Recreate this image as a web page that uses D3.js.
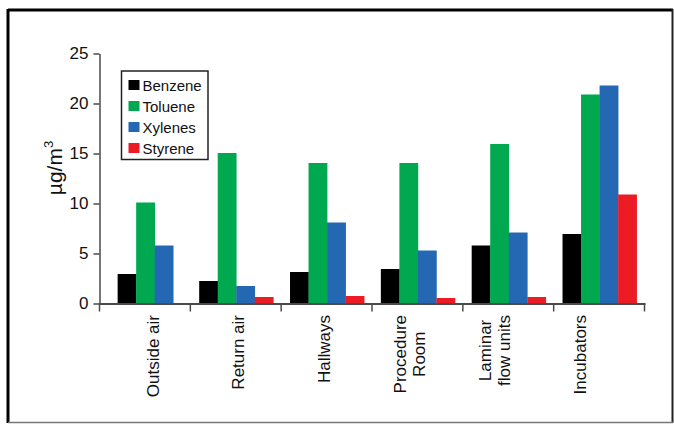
<!DOCTYPE html>
<html>
<head>
<meta charset="utf-8">
<script src="https://cdn.jsdelivr.net/npm/d3@7"></script>
<style>
  html, body { margin: 0; padding: 0; background: #fff; }
  svg { display: block; font-family: "Liberation Sans", Arial, Helvetica, sans-serif; }
</style>
</head>
<body>
<svg id="chart" width="674" height="424"></svg>
<script>
// Sampling locations (multi-line labels split on "\n")
const categories = ["Outside air", "Return air", "Hallways", "Procedure\nRoom", "Laminar\nflow units", "Incubators"];
const seriesNames = ["Benzene", "Toluene", "Xylenes", "Styrene"];
const seriesColors = ["#000000", "#00a94f", "#2467b3", "#ed1c24"];

// Concentrations in µg/m³ per location (null = not reported)
const benzene = [2.95, 2.25, 3.15, 3.45, 5.8, 6.95];
const toluene = [10.1, 15.05, 14.05, 14.05, 15.95, 20.9];
const xylenes = [5.8, 1.75, 8.1, 5.3, 7.1, 21.8];
const styrene = [null, 0.65, 0.75, 0.55, 0.65, 10.9];

const yTicks = [0, 5, 10, 15, 20, 25];
const yLabel = "µg/m";

const seriesValues = [benzene, toluene, xylenes, styrene];

const svg = d3.select("#chart");

// Frame around the figure
const frame = svg.append("g");
frame.append("line").attr("x1", 8).attr("x2", 673).attr("y1", 10).attr("y2", 10)
  .attr("stroke", "#000").attr("stroke-width", 3);
frame.append("line").attr("x1", 8).attr("x2", 8).attr("y1", 9).attr("y2", 423)
  .attr("stroke", "#000").attr("stroke-width", 3);
frame.append("line").attr("x1", 672.5).attr("x2", 672.5).attr("y1", 9).attr("y2", 423)
  .attr("stroke", "#222").attr("stroke-width", 2);
frame.append("line").attr("x1", 8).attr("x2", 673).attr("y1", 422.5).attr("y2", 422.5)
  .attr("stroke", "#777").attr("stroke-width", 1.5);

const plotLeft = 100, plotRight = 645, plotBottom = 303.5, plotTop = 53.5;

const x0 = d3.scaleBand().domain(categories).range([plotLeft, plotRight]).padding(0);
const y = d3.scaleLinear().domain([0, 25]).range([plotBottom, plotTop]);
const barWidth = x0.bandwidth() * 0.204;

const axisColor = "#4a4a4a";

// Bars: the reported series in each group are centred within the group
const bars = svg.append("g");
categories.forEach((cat, ci) => {
  const present = seriesNames.filter((s, si) => seriesValues[si][ci] != null);
  const inner = d3.scaleBand().domain(present)
    .range([0, barWidth * present.length]);
  const offset = x0(cat) + (x0.bandwidth() - barWidth * present.length) / 2;
  present.forEach(s => {
    const si = seriesNames.indexOf(s);
    const v = seriesValues[si][ci];
    bars.append("rect")
      .attr("x", offset + inner(s))
      .attr("width", inner.bandwidth() + 0.3)
      .attr("y", y(v))
      .attr("height", y(0) - y(v))
      .attr("fill", seriesColors[si]);
  });
});

// Y axis
const yAxis = svg.append("g")
  .attr("transform", `translate(${plotLeft - 0.5},0)`)
  .call(d3.axisLeft(y).tickValues(yTicks).tickSize(6).tickPadding(5).tickSizeOuter(0));
yAxis.select(".domain").attr("stroke", axisColor).attr("stroke-width", 1.5);
yAxis.selectAll(".tick line").attr("stroke", axisColor).attr("stroke-width", 1.5);
yAxis.selectAll(".tick text")
  .attr("font-size", 17).attr("fill", "#111")
  .style("font-family", "'Liberation Sans', Arial, sans-serif");

// X axis line with group separator ticks below
const sepTicks = categories.map(c => x0(c)).concat([x0.range()[1]]);
svg.append("line")
  .attr("x1", plotLeft - 1).attr("x2", plotRight + 0.5)
  .attr("y1", plotBottom + 0.5).attr("y2", plotBottom + 0.5)
  .attr("stroke", axisColor).attr("stroke-width", 2);
svg.append("g").selectAll("line").data(sepTicks).join("line")
  .attr("x1", d => d - 0.5).attr("x2", d => d - 0.5)
  .attr("y1", plotBottom).attr("y2", plotBottom + 8)
  .attr("stroke", axisColor).attr("stroke-width", 1.5);

// Rotated category labels: top-aligned block, lines centred on each other
const labelX = d3.scalePoint().domain(categories).range([153, 580]);
const labelTop = 315;
const labelSize = 17;
const lineGap = 19;
categories.forEach(cat => {
  const lines = cat.split("\n");
  const g = svg.append("g");
  const texts = lines.map(t => g.append("text")
    .attr("font-size", labelSize).attr("fill", "#111").attr("text-anchor", "middle")
    .text(t));
  const maxLen = d3.max(texts, t => t.node().getComputedTextLength());
  const cy = labelTop + maxLen / 2;
  const cx = labelX(cat);
  texts.forEach((t, i) => {
    const dx = (i - (lines.length - 1) / 2) * lineGap;
    t.attr("transform", `translate(${cx + dx + 6},${cy}) rotate(-90)`);
  });
});

// Y axis title with superscript
const yt = svg.append("text")
  .attr("transform", `translate(62,168) rotate(-90)`)
  .attr("text-anchor", "middle")
  .attr("font-size", 21).attr("fill", "#111");
yt.append("tspan").text(yLabel);
yt.append("tspan").attr("font-size", 13).attr("dy", -9).text("3");

// Legend
const legend = svg.append("g");
legend.append("rect")
  .attr("x", 121.5).attr("y", 71).attr("width", 86.5).attr("height", 88.5)
  .attr("fill", "#fff").attr("stroke", "#222").attr("stroke-width", 1.5);
const rowY = d3.scalePoint().domain(seriesNames).range([85, 148]);
seriesNames.forEach((s, i) => {
  legend.append("rect")
    .attr("x", 128.5).attr("y", rowY(s) - 5).attr("width", 11).attr("height", 10)
    .attr("fill", seriesColors[i]);
  legend.append("text")
    .attr("x", 142.5).attr("y", rowY(s) + 5.5)
    .attr("font-size", 15).attr("fill", "#111")
    .text(s);
});
</script>
</body>
</html>
